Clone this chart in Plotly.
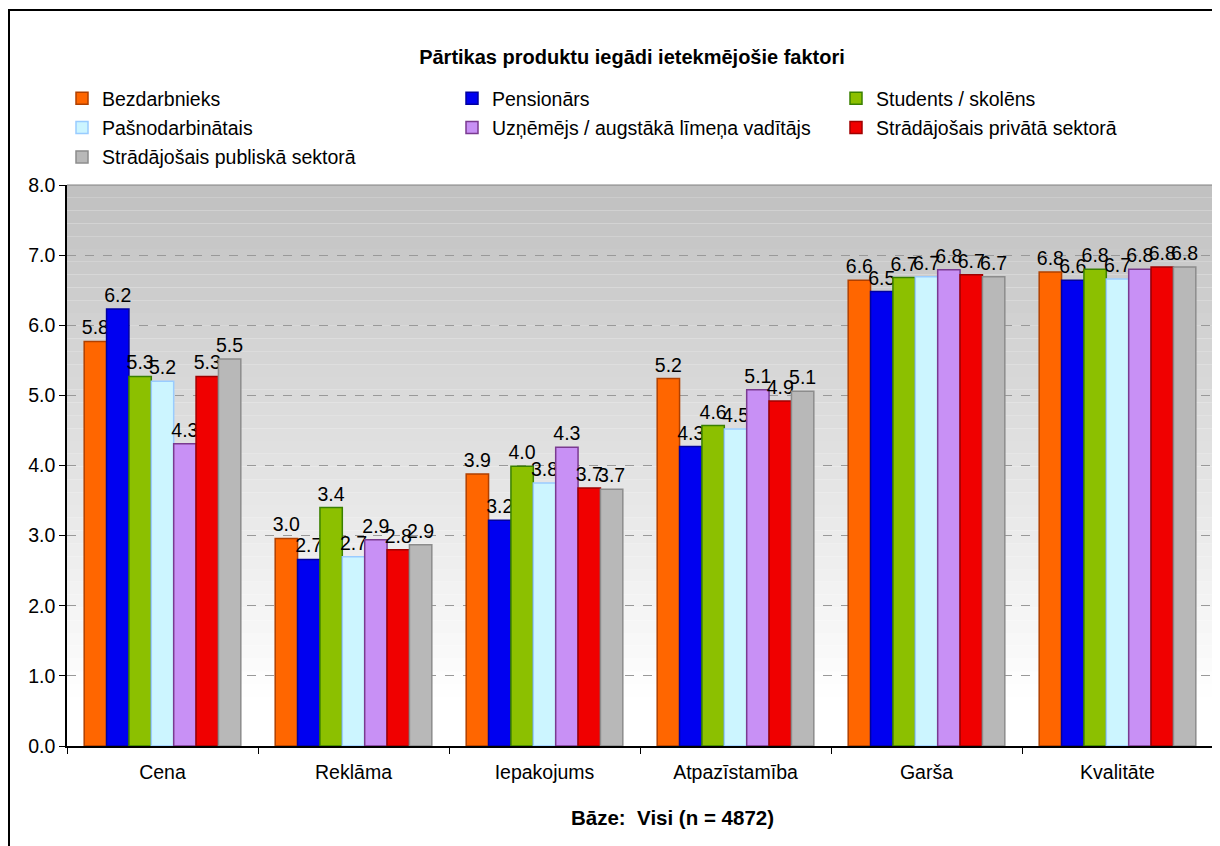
import plotly.graph_objects as go

categories = ["Cena", "Reklāma", "Iepakojums", "Atpazīstamība", "Garša", "Kvalitāte"]

series_names = [
    "Bezdarbnieks",
    "Pensionārs",
    "Students / skolēns",
    "Pašnodarbinātais",
    "Uzņēmējs / augstākā līmeņa vadītājs",
    "Strādājošais privātā sektorā",
    "Strādājošais publiskā sektorā",
]

bezdarbnieks = [5.77, 2.96, 3.88, 5.24, 6.64, 6.76]
pensionars = [6.23, 2.66, 3.22, 4.27, 6.48, 6.64]
students = [5.27, 3.40, 3.99, 4.57, 6.68, 6.80]
pasnodarbinatais = [5.20, 2.70, 3.75, 4.52, 6.69, 6.66]
uznemejs = [4.31, 2.94, 4.26, 5.08, 6.79, 6.80]
privatais = [5.27, 2.80, 3.68, 4.92, 6.72, 6.83]
publiskais = [5.52, 2.87, 3.66, 5.06, 6.69, 6.83]

values = [bezdarbnieks, pensionars, students, pasnodarbinatais, uznemejs, privatais, publiskais]

title_text = "Pārtikas produktu iegādi ietekmējošie faktori"
xaxis_title = "Bāze:  Visi (n = 4872)"

colors = ["#FF6600", "#0000F0", "#8CC000", "#CCF5FF", "#C890F5", "#F00000", "#B8B8B8"]
edges = ["#B04000", "#0000A0", "#3A8000", "#99CCFF", "#7A3A90", "#A00000", "#8C8C8C"]
# legend column (1,2,3) for each series, as in the reference's 3-column legend
legend_ids = ["legend", "legend2", "legend3", "legend", "legend2", "legend3", "legend"]

FONT = "Liberation Sans, Arial, sans-serif"
FS = 19.5

fig = go.Figure()
for i, (name, vals, c, e, lg) in enumerate(zip(series_names, values, colors, edges, legend_ids)):
    fig.add_trace(go.Bar(
        name=name,
        x=categories,
        y=vals,
        marker=dict(color=c, line=dict(color=e, width=1.5)),
        texttemplate="%{y:.1f}",
        textposition="outside",
        textfont=dict(family=FONT, size=FS, color="#000000"),
        constraintext="none",
        cliponaxis=False,
        legend=lg,
        legendgroup=f"g{i}",
    ))

# Page has an 8px body margin; figure sized/offset so the plot lands where the reference's does.
W, H = 1212, 838
L, T = 59, 177
PW, PH = 1146, 561
R = W - L - PW
B = H - T - PH

def px_x(page_x):
    return (page_x - 67) / PW

def px_y(page_y):
    return (746 - page_y) / PH

# gradient background bands
shapes = []
nb = 40
y_white = 0.7
for i in range(nb):
    y0 = y_white + (8.0 - y_white) * i / nb
    y1 = y_white + (8.0 - y_white) * (i + 1) / nb
    t = (i + 0.5) / nb
    g = int(round(255 - (255 - 192) * t))
    shapes.append(dict(type="rect", xref="x domain", yref="y", x0=0, x1=1, y0=y0, y1=y1,
                       fillcolor=f"rgb({g},{g},{g})", line=dict(width=0), layer="below"))
shapes.append(dict(type="rect", xref="x domain", yref="y", x0=0, x1=1, y0=0.0, y1=y_white,
                   fillcolor="rgb(255,255,255)", line=dict(width=0), layer="below"))
shapes.append(dict(type="line", xref="x domain", yref="y domain", x0=0, x1=1, y0=1, y1=1,
                   line=dict(color="#808080", width=1)))
shapes.append(dict(type="line", xref="x domain", yref="y domain", x0=1, x1=1, y0=0, y1=1,
                   line=dict(color="#808080", width=1)))
# outer chart border
shapes.append(dict(type="rect", xref="paper", yref="paper",
                   x0=px_x(9), x1=px_x(1245), y0=px_y(870), y1=px_y(10),
                   line=dict(color="#000000", width=2), fillcolor="rgba(0,0,0,0)"))

leg_common = dict(
    orientation="v",
    yanchor="top",
    font=dict(family=FONT, size=FS, color="#000000"),
    bgcolor="rgba(0,0,0,0)",
    tracegroupgap=1,
    itemwidth=30,
)

fig.update_layout(
    width=W,
    height=H,
    margin=dict(l=L, r=R, t=T, b=B),
    paper_bgcolor="#FFFFFF",
    plot_bgcolor="rgba(0,0,0,0)",
    barmode="group",
    bargap=0.18,
    bargroupgap=0,
    font=dict(family=FONT, size=FS, color="#000000"),
    title=dict(
        text=f"<b>{title_text}</b>",
        x=624 / W, xanchor="center", y=1 - 49 / H, yanchor="middle",
        font=dict(family=FONT, size=20, color="#000000"),
    ),
    legend=dict(x=px_x(62), y=px_y(79), **leg_common),
    legend2=dict(x=px_x(452), y=px_y(79), **leg_common),
    legend3=dict(x=px_x(836), y=px_y(79), **leg_common),
    xaxis=dict(
        showline=True, linecolor="#000000", linewidth=1.5,
        ticks="outside", tickson="boundaries", ticklen=6, tickcolor="#000000",
        tickfont=dict(family=FONT, size=FS, color="#000000"),
        ticklabelstandoff=8,
        showgrid=False,
    ),
    yaxis=dict(
        range=[0, 8],
        dtick=1,
        tickformat=".1f",
        showline=True, linecolor="#000000", linewidth=1.5,
        ticks="outside", ticklen=6, tickcolor="#000000",
        tickfont=dict(family=FONT, size=FS, color="#000000"),
        showgrid=True, gridcolor="#999999", griddash="dash", gridwidth=1,
        zeroline=False,
    ),
    shapes=shapes,
    annotations=[dict(
        text=f"<b>{xaxis_title}</b>", xref="paper", yref="paper",
        x=px_x(673), y=px_y(817), xanchor="center", yanchor="middle",
        showarrow=False, font=dict(family=FONT, size=20.5, color="#000000"),
    )],
)

fig.write_html("out.html")
